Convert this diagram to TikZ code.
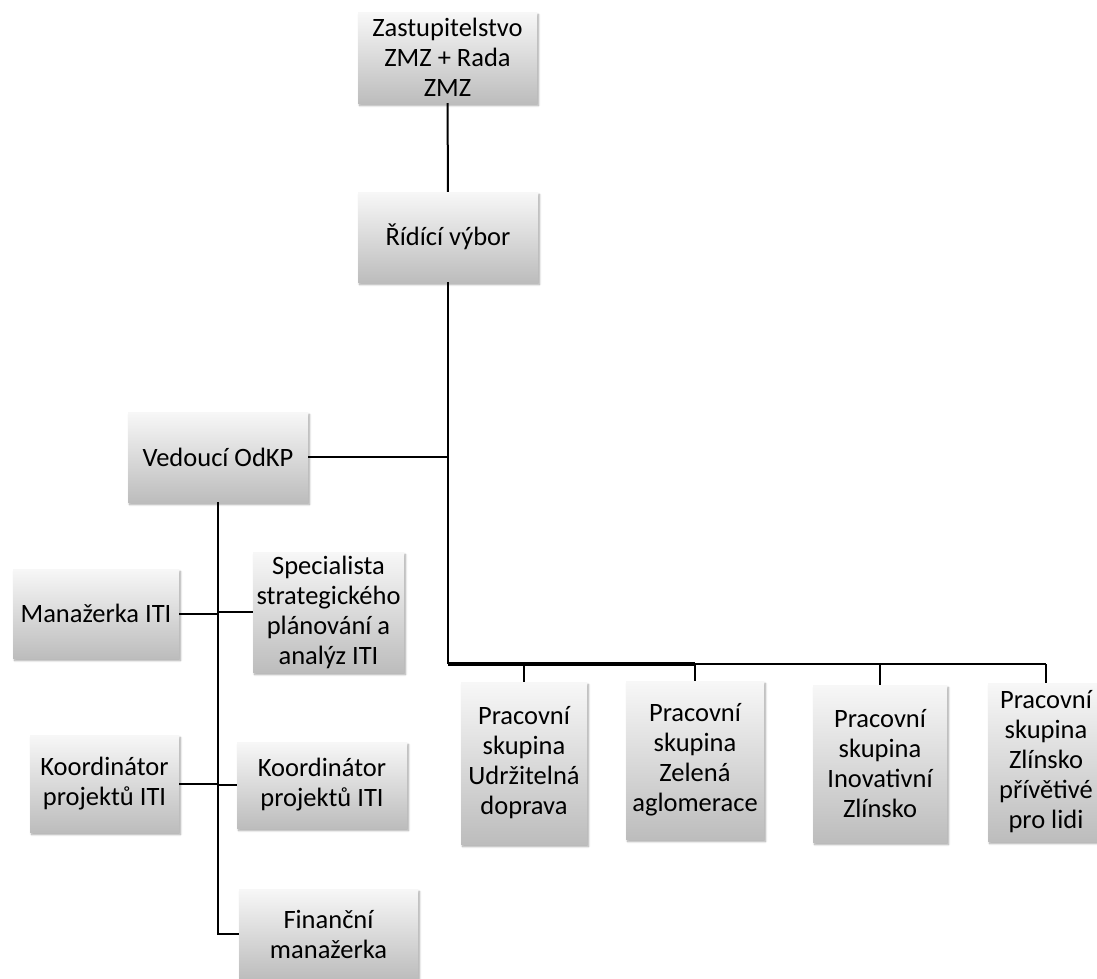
\documentclass[tikz,border=0pt]{standalone}
\usepackage{fontspec}
\setmainfont{Carlito}
\usetikzlibrary{shadows.blur}

\tikzset{
  orgbox/.style={rectangle, inner sep=0pt, align=center,
    top color=black!3, bottom color=black!26,
    blur shadow={shadow xshift=1.5pt, shadow yshift=-2.5pt, shadow blur steps=6, shadow opacity=35},
    font=\fontsize{26.5}{30}\selectfont},
  conn/.style={line width=2pt, black},
}

\begin{document}
\begin{tikzpicture}[x=1pt, y=-1pt]
\useasboundingbox (0,0) rectangle (1097,978);

\node[orgbox, minimum width=179, minimum height=91] (zast) at (447.5,57.5) {Zastupitelstvo\\ZMZ + Rada\\ZMZ};
\node[orgbox, minimum width=180, minimum height=90] (ridici) at (448,237) {Řídící výbor};
\node[orgbox, minimum width=180, minimum height=90] (vedouci) at (218,457) {Vedoucí OdKP};

\node[orgbox, minimum width=166, minimum height=89] (manaz) at (96,613.5) {Manažerka ITI};
\node[orgbox, minimum width=151, minimum height=120] (spec) at (328.5,612) {Specialista\\strategického\\plánování a\\analýz ITI};
\node[orgbox, minimum width=149, minimum height=97] (koordA) at (104.5,783.5) {Koordinátor\\projektů ITI};
\node[orgbox, minimum width=170, minimum height=86] (koordB) at (322,785) {Koordinátor\\projektů ITI};
\node[orgbox, minimum width=179, minimum height=90] (fin) at (328.5,934) {Finanční\\manažerka};

\node[orgbox, minimum width=126, minimum height=162] (ps1) at (524,763) {Pracovní\\skupina\\Udržitelná\\doprava};
\node[orgbox, minimum width=138, minimum height=158] (ps2) at (695,760) {Pracovní\\skupina\\Zelená\\aglomerace};
\node[orgbox, minimum width=134, minimum height=157] (ps3) at (880,763.5) {Pracovní\\skupina\\Inovativní\\Zlínsko};
\node[orgbox, minimum width=116, minimum height=158] (ps4) at (1046,762) {Pracovní\\skupina\\Zlínsko\\přívětivé\\pro lidi};

\coordinate (bus) at (448,664);

% top part
\draw[conn] (zast) -- (ridici);
\draw[conn, line width=2.8pt] (ridici) -- (bus);
\draw[conn] (vedouci) -- (vedouci.east -| bus);

% working groups
\draw[conn, line width=3.8pt] (bus) -- (bus -| ps2.north);
\draw[conn] (bus) -- (bus -| ps4.north);
\draw[conn] (bus -| ps1.north) -- (ps1);
\draw[conn] (bus -| ps2.north) -- (ps2);
\draw[conn] (bus -| ps3.north) -- (ps3);
\draw[conn] (bus -| ps4.north) -- (ps4);

% OdKP team
\draw[conn] (vedouci) -- (vedouci.south |- fin.west) -- (fin);
\draw[conn] (manaz) -- (manaz.east -| vedouci.south);
\draw[conn] (spec) -- (spec.west -| vedouci.south);
\draw[conn] (koordA) -- (koordA.east -| vedouci.south);
\draw[conn] (koordB) -- (koordB.west -| vedouci.south);
\end{tikzpicture}
\end{document}
